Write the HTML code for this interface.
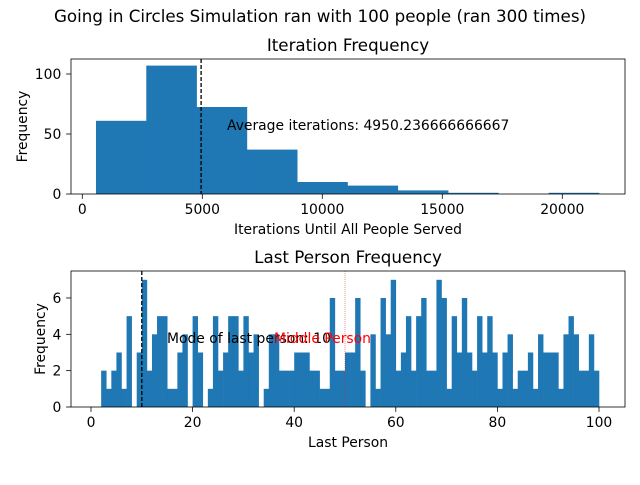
<!DOCTYPE html>
<html><head><meta charset="utf-8"><style>
body{margin:0;background:#fff;}
svg text{font-family:"DejaVu Sans","Liberation Sans",sans-serif;}
</style></head><body>
<svg id="fig" width="640" height="480" xmlns="http://www.w3.org/2000/svg">
<text x="320" y="22" font-size="16.7" text-anchor="middle">Going in Circles Simulation ran with 100 people (ran 300 times)</text>
<g id="top"></g>
<g id="bot"></g>
</svg>
<script>
const iterBinStart = 570;
const iterBinWidth = 2096;
const iterCounts = [61, 107, 72.5, 37, 10, 7, 3, 1, 0, 1];
const iterXTicks = [0, 5000, 10000, 15000, 20000];
const iterYTicks = [0, 50, 100];
const iterMean = 4950.236666666667;

const lastBinStart = 2;
const lastBinEnd = 100;
const lastCounts = [2,1,2,3,1,5,0,3,7,2,4,5,5,1,1,3,4,0,5,3,0,1,5,2,3,5,5,2,5,3,4,0,1,4,4,2,2,2,3,3,3,2,2,1,1,6,2,2,3,3,6,2,0,4,1,6,4,7,2,3,5,2,5,6,2,2,7,6,1,5,3,6,3,2,5,3,5,3,1,3,4,1,2,2,3,1,4,3,3,3,1,4,5,4,2,2,4,2];
const lastXTicks = [0, 20, 40, 60, 80, 100];
const lastYTicks = [0, 2, 4, 6];
const lastMode = 10;
const middlePerson = 50;

const NS = "http://www.w3.org/2000/svg";
function mk(parent, tag, attrs, text) {
  const e = document.createElementNS(NS, tag);
  for (const k in attrs) e.setAttribute(k, attrs[k]);
  if (text !== undefined) e.textContent = text;
  parent.appendChild(e);
  return e;
}

function axes(g, box, xs, ys, xticks, yticks, xlabel, ylabel, title) {
  for (const t of xticks) {
    const x = xs(t);
    const l = mk(g, "line", {x1:x, x2:x, y1:box.b, y2:box.b+4.9, stroke:"#000", "stroke-width":0.8});
    
    
    const tx = mk(g, "text", {x:x, y:box.b+20, "font-size":13.9, "text-anchor":"middle"}, String(t));
    
    
  }
  for (const t of yticks) {
    const y = ys(t);
    const l = mk(g, "line", {x1:box.l-4.9, x2:box.l, y1:y, y2:y, stroke:"#000", "stroke-width":0.8});
    
    
    const tx = mk(g, "text", {x:box.l-9.7, y:y+5, "font-size":13.9, "text-anchor":"end"}, String(t));
    
    
  }
  const fr = mk(g, "rect", {x:box.l, y:box.t, width:box.r-box.l, height:box.b-box.t, fill:"none", stroke:"#000", "stroke-width":0.8});
  
  
  const xl = mk(g, "text", {x:(box.l+box.r)/2, y:box.b+40, "font-size":13.9, "text-anchor":"middle"}, xlabel);
  
  
  const yl = mk(g, "text", {x:0, y:0, "font-size":13.9, "text-anchor":"middle", transform:`translate(${box.ylx},${(box.t+box.b)/2}) rotate(-90)`}, ylabel);
  
  
  const tt = mk(g, "text", {x:(box.l+box.r)/2, y:box.t-8, "font-size":16.7, "text-anchor":"middle"}, title);
  
  
}

// Top chart
(function(){
  const g = document.getElementById("top");
  const box = {l:71, r:625, t:59, b:194, ylx:27};
  const xs = v => 82.3 + v * 0.024;
  const ys = v => 194 - v * 1.2;
  iterCounts.forEach((c, i) => {
    if (c <= 0) return;
    const x0 = xs(iterBinStart + i*iterBinWidth), x1 = xs(iterBinStart + (i+1)*iterBinWidth);
    const r = mk(g, "rect", {x:x0, y:ys(c), width:x1-x0+0.3, height:ys(0)-ys(c), fill:"#1f77b4"});
    
    
  });
  const ml = mk(g, "line", {x1:xs(iterMean), x2:xs(iterMean), y1:box.t, y2:box.b, stroke:"#000", "stroke-width":1.3, "stroke-dasharray":"4,2"});
  
  
  const at = mk(g, "text", {x:227, y:130, "font-size":13.9}, "Average iterations: " + iterMean);
  
  
  axes(g, box, xs, ys, iterXTicks, iterYTicks, "Iterations Until All People Served", "Frequency", "Iteration Frequency");
})();

// Bottom chart
(function(){
  const g = document.getElementById("bot");
  const box = {l:71, r:625, t:271, b:407, ylx:45};
  const xs = v => 91 + v * 5.08;
  const ys = v => 407 - v * 18.17;
  const w = (lastBinEnd - lastBinStart) / lastCounts.length;
  lastCounts.forEach((c, i) => {
    if (c <= 0) return;
    const x0 = xs(lastBinStart + i*w), x1 = xs(lastBinStart + (i+1)*w);
    const r = mk(g, "rect", {x:x0, y:ys(c), width:x1-x0+0.3, height:ys(0)-ys(c), fill:"#1f77b4"});
    
    
  });
  const ml = mk(g, "line", {x1:xs(lastMode), x2:xs(lastMode), y1:box.t, y2:box.b, stroke:"#000", "stroke-width":1.3, "stroke-dasharray":"4,2"});
  
  
  const mid = mk(g, "line", {x1:xs(middlePerson), x2:xs(middlePerson), y1:box.t, y2:box.b, stroke:"#d62728", "stroke-width":0.5, "stroke-dasharray":"1,1"});
  
  
  const mt = mk(g, "text", {x:167, y:343, "font-size":13.9}, "Mode of last person: " + lastMode);
  
  
  const mp = mk(g, "text", {x:274, y:343, "font-size":13.9, fill:"#ff0000"}, "Middle Person");
  
  
  axes(g, box, xs, ys, lastXTicks, lastYTicks, "Last Person", "Frequency", "Last Person Frequency");
})();
</script>
</body></html>
